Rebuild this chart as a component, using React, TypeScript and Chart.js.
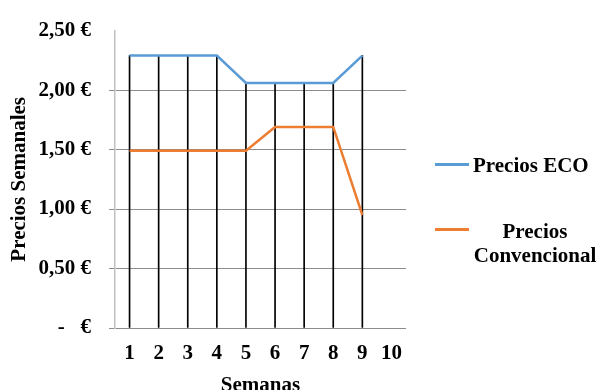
import React, { useEffect, useRef } from 'react';
import { Chart, registerables } from 'chart.js';

Chart.register(...registerables);

const weeks = ['1', '2', '3', '4', '5', '6', '7', '8', '9', '10'];
const ecoPrices = [2.29, 2.29, 2.29, 2.29, 2.06, 2.06, 2.06, 2.06, 2.29, null];
const convPrices = [1.49, 1.49, 1.49, 1.49, 1.49, 1.69, 1.69, 1.69, 0.95, null];
const yTickLabels = ['-   €', '0,50 €', '1,00 €', '1,50 €', '2,00 €', '2,50 €'];
const seriesNames = ['Precios ECO', 'Precios Convencional'];
const seriesColors = ['#5B9BD5', '#ED7D31'];

// Drop lines go from the axis up to the highest point of each week
const dropLineTops = ecoPrices.map((v, i) => {
  const c = convPrices[i];
  if (v == null && c == null) return null;
  return Math.max(v ?? 0, c ?? 0);
});

const FONT = 'Liberation Serif';

export default function App() {
  const canvasRef = useRef<HTMLCanvasElement | null>(null);

  useEffect(() => {
    document.body.style.margin = '0';
    const canvas = canvasRef.current;
    if (!canvas) return;
    const chart = new Chart(canvas, {
      type: 'line',
      data: {
        labels: weeks,
        datasets: [
          {
            type: 'line',
            label: seriesNames[0],
            data: ecoPrices,
            borderColor: seriesColors[0],
            backgroundColor: seriesColors[0],
            borderWidth: 2.5,
            pointRadius: 0,
            tension: 0,
            order: 1,
          },
          {
            type: 'line',
            label: seriesNames[1],
            data: convPrices,
            borderColor: seriesColors[1],
            backgroundColor: seriesColors[1],
            borderWidth: 2.5,
            pointRadius: 0,
            tension: 0,
            order: 1,
          },
          {
            type: 'bar',
            label: 'drop',
            data: dropLineTops,
            backgroundColor: '#000000',
            borderWidth: 0,
            barThickness: 1,
            order: 2,
          } as any,
        ],
      },
      options: {
        responsive: false,
        animation: false,
        layout: { padding: { top: 23, right: 192, left: 0, bottom: 0 } },
        plugins: {
          legend: { display: false },
          tooltip: { enabled: false },
        },
        scales: {
          x: {
            type: 'category',
            offset: true,
            grid: { display: false, drawTicks: false },
            border: { display: false },
            ticks: {
              color: '#000',
              padding: 13,
              font: { family: FONT, size: 21, weight: 'bold' },
            },
            title: {
              display: true,
              text: 'Semanas',
              color: '#000',
              font: { family: FONT, size: 21, weight: 'bold' },
              padding: { top: 0, bottom: -8 },
            },
            afterFit: (scale: any) => {
              scale.height = 62;
            },
          },
          y: {
            min: 0,
            max: 2.5,
            ticks: {
              stepSize: 0.5,
              color: '#000',
              padding: 18,
              font: { family: FONT, size: 21, weight: 'bold' },
              callback: (value: any) => yTickLabels[Math.round(Number(value) / 0.5)] ?? '',
            },
            grid: {
              color: (ctx: any) =>
                ctx.tick && Math.abs(ctx.tick.value - 2.5) < 1e-9 ? 'rgba(0,0,0,0)' : '#8C8C8C',
              tickLength: 6,
              lineWidth: 1,
            },
            border: { display: true, color: '#BFBFBF', width: 1.5 },
            title: {
              display: true,
              text: 'Precios Semanales',
              color: '#000',
              font: { family: FONT, size: 21, weight: 'bold' },
              padding: { top: 7, bottom: 0 },
            },
            afterFit: (scale: any) => {
              scale.width = 115;
            },
          },
        },
      },
    });
    return () => chart.destroy();
  }, []);

  const textStyle: React.CSSProperties = {
    position: 'absolute',
    fontFamily: FONT,
    fontWeight: 'bold',
    fontSize: '21px',
    lineHeight: '24px',
    color: '#000',
    whiteSpace: 'nowrap',
    margin: 0,
  };

  return (
    <div style={{ position: 'relative', width: 598, height: 390, background: '#fff' }}>
      <canvas ref={canvasRef} width={598} height={390} style={{ display: 'block', width: 598, height: 390 }} />
      <div style={{ position: 'absolute', left: 435, top: 163, width: 34, height: 2.5, background: seriesColors[0] }} />
      <div style={{ ...textStyle, left: 473, top: 153 }}>{seriesNames[0]}</div>
      <div style={{ position: 'absolute', left: 435, top: 228, width: 34, height: 2.5, background: seriesColors[1] }} />
      <div style={{ ...textStyle, left: 473, top: 219, width: 124, textAlign: 'center' }}>
        Precios
        <br />
        Convencional
      </div>
    </div>
  );
}
